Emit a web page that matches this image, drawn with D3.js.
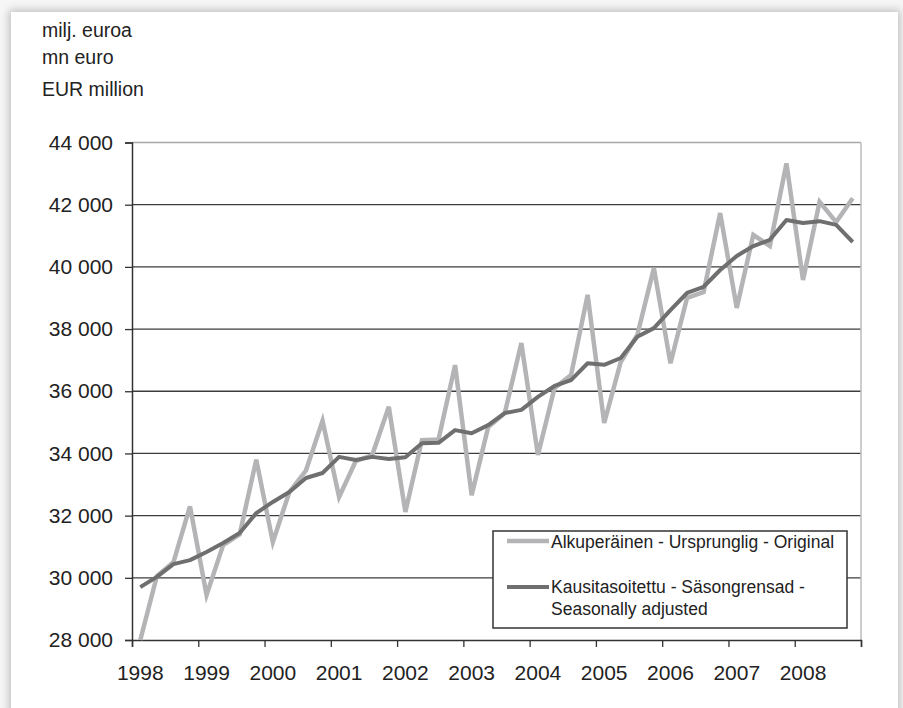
<!DOCTYPE html>
<html><head><meta charset="utf-8">
<script src="https://cdn.jsdelivr.net/npm/d3@7"></script>
<style>
body{margin:0;background:#fff}
svg{display:block}
text{font-family:"Liberation Sans",Arial,sans-serif;fill:#222}
</style>
</head><body>
<svg id="c" width="903" height="708"></svg>
<script>
const quarters = ["1998Q1","1998Q2","1998Q3","1998Q4","1999Q1","1999Q2","1999Q3","1999Q4",
"2000Q1","2000Q2","2000Q3","2000Q4","2001Q1","2001Q2","2001Q3","2001Q4",
"2002Q1","2002Q2","2002Q3","2002Q4","2003Q1","2003Q2","2003Q3","2003Q4",
"2004Q1","2004Q2","2004Q3","2004Q4","2005Q1","2005Q2","2005Q3","2005Q4",
"2006Q1","2006Q2","2006Q3","2006Q4","2007Q1","2007Q2","2007Q3","2007Q4",
"2008Q1","2008Q2","2008Q3","2008Q4"];
const original = [28000,30050,30500,32300, 29450,31050,31400,33800, 31150,32760,33450,35050,
32600,33750,33950,35500, 32120,34430,34450,36840, 32660,34850,35300,37550,
33950,36100,36520,39100, 34980,36940,37810,39960, 36900,39000,39190,41730,
38680,41030,40670,43330, 39580,42090,41440,42210];
const seasonal = [29700,30030,30440,30570, 30830,31120,31440,32080, 32440,32760,33210,33370,
33890,33790,33890,33820, 33880,34330,34340,34750, 34650,34910,35300,35400,
35820,36170,36360,36900, 36850,37070,37750,38030, 38610,39160,39360,39900,
40350,40670,40870,41510, 41410,41470,41350,40800];
const yearLabels = ["1998","1999","2000","2001","2002","2003","2004","2005","2006","2007","2008"];
const yTicks = [28000,30000,32000,34000,36000,38000,40000,42000,44000];
const unitLines = ["milj. euroa","mn euro","EUR million"];
const seriesNames = ["Alkuperäinen - Ursprunglig - Original","Kausitasoitettu - Säsongrensad -","Seasonally adjusted"];

const svg = d3.select("#c");
const L=132, R=861, T=142.5, B=640;

// background & panel
const defs = svg.append("defs");
const f = defs.append("filter").attr("id","sh").attr("x","-5%").attr("y","-5%").attr("width","110%").attr("height","110%");
f.append("feGaussianBlur").attr("stdDeviation",4);
svg.append("rect").attr("width",903).attr("height",708).attr("fill","#f6f6f6");
svg.append("rect").attr("x",9).attr("y",10).attr("width",891).attr("height",720).attr("fill","#bdbdbd").attr("filter","url(#sh)");
svg.append("rect").attr("x",11).attr("y",12).attr("width",887).attr("height",710).attr("fill","#fff");

const fmt = d3.formatLocale({decimal:",",thousands:" ",grouping:[3],currency:["","€"]}).format(",");
const x = d3.scaleBand().domain(quarters).range([L,R]);
const cx = q => x(q)+x.bandwidth()/2;
const y = d3.scaleLinear().domain([28000,44000]).range([B,T]);
const xYear = d3.scaleLinear().domain([1998,2009]).range([L,R]);

// gridlines
svg.append("g").selectAll("line").data(yTicks.filter(v=>v>28000)).join("line")
  .attr("x1",L).attr("x2",R).attr("y1",d=>y(d)).attr("y2",d=>y(d))
  .attr("stroke",d=>d===44000?"#a8a8a8":"#3c3c3c").attr("stroke-width",1.3);
svg.append("line").attr("x1",R).attr("x2",R).attr("y1",T).attr("y2",B).attr("stroke","#bcbcbc").attr("stroke-width",1.5);

// y axis
const ya = svg.append("g").attr("transform",`translate(${L},0)`)
  .call(d3.axisLeft(y).tickValues(yTicks).tickSize(7).tickPadding(12).tickFormat(fmt));
ya.select(".domain").attr("stroke","#333").attr("stroke-width",1.5);
ya.selectAll(".tick line").attr("stroke","#333").attr("stroke-width",1.3);
ya.selectAll("text").attr("font-size",21).attr("fill","#222").attr("font-family","Liberation Sans, Arial, sans-serif");

// x axis ticks
const xa = svg.append("g").attr("transform",`translate(0,${B})`)
  .call(d3.axisBottom(xYear).tickValues(d3.range(1998,2010)).tickSize(7).tickFormat(""));
xa.select(".domain").attr("stroke","#333").attr("stroke-width",1.5);
xa.selectAll(".tick line").attr("stroke","#333").attr("stroke-width",1.3);
const q1 = quarters.filter(q=>q.endsWith("Q1"));
const xl = svg.append("g").attr("transform",`translate(0,${B})`)
  .call(d3.axisBottom(x).tickValues(q1).tickSize(0).tickPadding(25).tickFormat((d,i)=>yearLabels[i]));
xl.select(".domain").remove();
xl.selectAll("text").attr("font-size",21).attr("fill","#222").attr("font-family","Liberation Sans, Arial, sans-serif");

// lines
const line = d3.line().x((d,i)=>cx(quarters[i])).y(d=>y(d));
svg.append("path").datum(original).attr("d",line).attr("fill","none")
  .attr("stroke","#b4b4b6").attr("stroke-width",4.5).attr("stroke-linejoin","miter");
svg.append("path").datum(seasonal).attr("d",line).attr("fill","none")
  .attr("stroke","#6f6f6f").attr("stroke-width",4).attr("stroke-linejoin","round");

// header
svg.append("g").selectAll("text").data(unitLines).join("text")
  .attr("x",42).attr("y",(d,i)=>[37,64,96][i]).attr("font-size",19.5).text(d=>d);

// legend
const lg = svg.append("g");
lg.append("rect").attr("x",493).attr("y",531).attr("width",354).attr("height",97)
  .attr("fill","#fff").attr("stroke","#333").attr("stroke-width",1.5);
lg.append("line").attr("x1",507).attr("x2",549).attr("y1",541).attr("y2",541).attr("stroke","#b4b4b6").attr("stroke-width",4.5);
lg.append("line").attr("x1",507).attr("x2",549).attr("y1",587).attr("y2",587).attr("stroke","#6f6f6f").attr("stroke-width",4);
lg.selectAll("text").data(seriesNames).join("text")
  .attr("x",551).attr("y",(d,i)=>[548,593,615][i]).attr("font-size",17.5).text(d=>d);
</script>
</body></html>
